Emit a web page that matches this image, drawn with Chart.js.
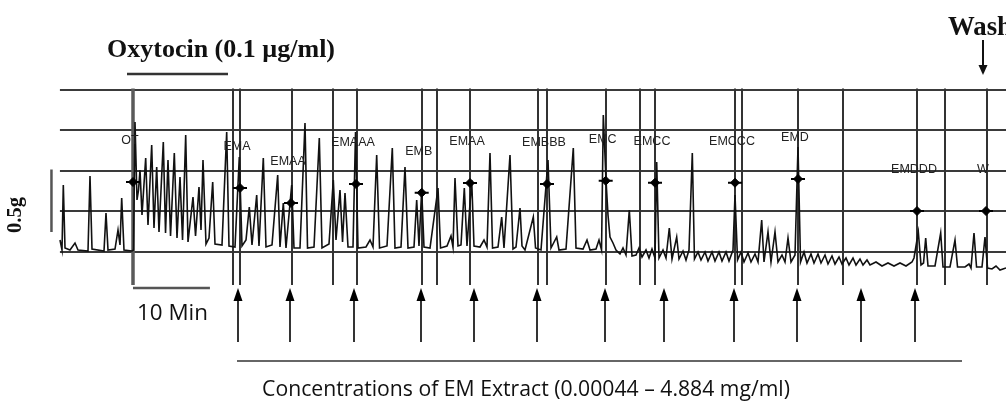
<!DOCTYPE html>
<html><head><meta charset="utf-8">
<script src="https://cdn.jsdelivr.net/npm/chart.js@4.4.1/dist/chart.umd.min.js"></script>
<style>html,body{margin:0;padding:0;background:#fff;overflow:hidden}canvas{display:block}</style>
</head><body>
<canvas id="c" width="1006" height="406"></canvas>
<script>
// ---- data (time in minutes from oxytocin application, force in g) ----
const traceTime = [
-9.49,-9.23,-9.06,-8.84,-8.19,-7.54,-7.15,-5.85,-5.59,-5.33,-3.77,-3.51,-3.25,-2.34,-1.95,-1.69,-1.47,-1.17,-0.13,
0.07,0.26,0.52,0.72,0.91,1.17,1.65,1.95,2.43,2.73,3.08,3.38,3.94,4.23,4.55,4.88,5.37,5.72,6.11,6.44,6.85,7.15,7.8,8.13,8.58,8.84,9.1,9.49,9.88,10.36,10.66,11.57,12.18,12.48,
13.26,13.82,14.17,14.69,15.12,15.47,16.08,16.38,16.94,17.29,18.07,18.81,19.11,19.54,19.89,20.63,20.93,21.71,22.36,22.69,23.53,24.22,24.57,25.48,26.04,26.39,26.91,27.24,27.56,27.95,
28.6,28.93,29.25,30.29,30.81,31.2,31.68,32.05,33.02,33.71,34.06,34.84,35.36,35.75,36.53,36.88,37.18,37.53,37.83,38.61,39.65,39.98,40.82,41.34,41.6,41.86,42.25,42.64,43.07,43.42,
44.03,44.33,45.11,45.63,46.02,46.41,46.74,47.45,47.93,48.23,49.01,49.4,49.79,50.31,50.57,50.96,52.04,52.33,53.04,53.95,54.34,55.08,55.38,56.29,57.24,57.59,58.5,59.02,59.41,60.19,60.58,60.91,
61.14,61.49,61.75,62.01,62.4,62.79,63.31,63.7,64.09,64.52,64.87,65.39,65.78,66.17,66.69,67.08,67.47,67.86,68.08,68.38,68.9,69.29,69.72,70.07,70.68,70.98,71.5,71.89,72.28,72.71,72.99,
73.45,73.84,74.36,74.75,75.27,75.66,76.18,76.57,77.09,77.48,78.0,78.26,78.59,79.04,79.43,79.95,80.34,80.86,81.25,81.73,82.03,82.55,82.94,83.46,83.85,84.37,84.76,85.15,85.54,86.06,86.45,86.78,
87.23,87.62,88.14,88.53,89.05,89.44,89.96,90.35,90.87,91.26,91.78,92.17,92.69,93.08,93.6,93.99,94.51,94.9,95.42,95.81,96.59,97.37,98.15,98.93,99.71,100.49,101.27,101.53,
102.09,102.44,102.77,103.05,103.35,104.26,105.0,105.3,106.21,106.86,107.19,108.16,108.68,108.94,109.33,109.66,110.37,110.76,111.09,111.67,112.19,112.71,113.49
];
const traceForce = [
0.096,0.016,0.536,0.032,0.016,0.072,0.016,0.008,0.608,0.024,0.008,0.312,0.016,0.024,0.176,0.056,0.432,0.016,0.008,
0.016,1.04,0.416,0.496,0.656,0.296,0.752,0.216,0.856,0.192,0.68,0.16,0.88,0.152,0.736,0.128,0.792,0.112,0.6,0.096,0.936,0.08,0.44,0.128,0.52,0.176,0.736,0.064,0.112,0.56,0.064,0.056,0.96,0.048,
0.04,0.76,0.048,0.096,0.36,0.056,0.456,0.048,0.752,0.04,0.056,0.616,0.04,0.392,0.032,0.536,0.032,0.032,1.032,0.032,0.04,0.912,0.032,0.064,0.576,0.096,0.496,0.08,0.472,0.04,
0.04,0.96,0.032,0.04,0.096,0.04,0.776,0.032,0.048,0.832,0.032,0.04,0.68,0.032,0.04,0.416,0.048,0.496,0.04,0.032,0.512,0.032,0.048,0.128,0.04,0.592,0.048,0.056,0.512,0.048,
0.576,0.048,0.04,0.096,0.04,0.792,0.032,0.04,0.28,0.032,0.776,0.024,0.04,0.352,0.048,0.016,0.28,0.032,0.016,0.736,0.032,0.12,0.016,0.024,0.832,0.032,0.024,0.096,0.016,0.024,0.096,0.016,
1.096,0.576,0.296,0.12,0.072,0.016,-0.016,0.032,-0.024,0.336,-0.032,-0.024,0.032,-0.04,0.016,-0.048,0.024,-0.048,0.72,-0.048,0.016,-0.048,0.192,-0.056,0.12,-0.056,0.008,-0.064,0.016,0.792,-0.056,
0,-0.064,0,-0.072,0,-0.072,0,-0.072,0,-0.072,0.016,0.456,-0.064,0,-0.08,-0.008,-0.08,-0.016,-0.08,0.256,-0.08,0.16,-0.08,0.16,-0.08,-0.024,-0.08,0.112,-0.08,-0.024,0.84,-0.08,
0,-0.088,-0.016,-0.088,-0.016,-0.088,-0.024,-0.096,-0.032,-0.096,-0.04,-0.096,-0.048,-0.104,-0.048,-0.104,-0.056,-0.104,-0.064,-0.104,-0.08,-0.112,-0.088,-0.112,-0.088,-0.112,-0.08,-0.048,
0.16,-0.104,-0.088,0.112,-0.112,-0.112,0.152,-0.12,-0.12,0.096,-0.12,-0.12,-0.096,-0.128,0.152,-0.12,-0.12,0.12,-0.128,-0.136,-0.112,-0.144,-0.128
];
const markerNames = ['OT','EMA','EMAA','EMAAA','EMB','EMAA','EMBBB','EMC','EMCC','EMCCC','EMD','EMDDD','W'];
const markerTime  = [0, 13.91, 20.54, 28.99, 37.53, 43.81, 53.82, 61.45, 67.86, 78.26, 86.45, 101.92, 110.89];
const markerForce = [0.56, 0.512, 0.392, 0.544, 0.474, 0.552, 0.544, 0.57, 0.554, 0.554, 0.584, 0.328, 0.328];
const gridForce = [0, 0.325, 0.65, 0.975, 1.3];
const paperLineTime = [0, 13.0, 13.91, 20.67, 26.0, 29.12, 37.57, 39.52, 43.81, 52.65, 53.82, 61.49, 65.91, 67.86, 78.26, 79.17, 86.45, 92.3, 101.92, 105.56, 111.02];
const doseTime = [13.65, 20.41, 28.73, 37.44, 44.33, 52.52, 61.36, 69.03, 78.13, 86.32, 94.64, 101.66];
const oxytocinPeriod = [-0.78, 12.35];
const timeBarMinutes = [0, 10];
const forceBarGrams = [0.16, 0.66];
const washTime = 110.5;
const extractPeriod = [13.52, 107.77];
const titleOxytocin = 'Oxytocin (0.1 \u00b5g/ml)';
const titleWash = 'Wash';
const labelForce = '0.5g';
const labelTime = '10 Min';
const labelExtract = 'Concentrations of EM Extract (0.00044 \u2013 4.884 mg/ml)';

// ---- drawing ----
const X_MIN = -17.29, X_MAX = 113.49, Y_MIN = -1.232, Y_MAX = 2.016;
const GRID_START = -9.5, LINE_BOTTOM = -0.264;

function fitFont(ctx, text, weight, size, family, targetW) {
  ctx.font = `${weight} ${size}px ${family}`;
  const w = ctx.measureText(text).width;
  ctx.font = `${weight} ${(size * targetW / w).toFixed(2)}px ${family}`;
}
function upArrow(ctx, x, yTop, yBot, headW, headH) {
  ctx.beginPath(); ctx.moveTo(x, yBot); ctx.lineTo(x, yTop + headH - 1); ctx.stroke();
  ctx.beginPath(); ctx.moveTo(x, yTop); ctx.lineTo(x - headW / 2, yTop + headH); ctx.lineTo(x + headW / 2, yTop + headH); ctx.closePath(); ctx.fill();
}

const overlay = {
  id: 'overlay',
  beforeDatasetsDraw(chart) {
    const { ctx, scales: { x, y } } = chart;
    ctx.save();
    ctx.strokeStyle = '#3a3a3a'; ctx.lineWidth = 2;
    gridForce.forEach(g => {
      const py = Math.round(y.getPixelForValue(g));
      ctx.beginPath(); ctx.moveTo(x.getPixelForValue(GRID_START), py); ctx.lineTo(x.getPixelForValue(X_MAX), py); ctx.stroke();
    });
    paperLineTime.forEach((t, i) => {
      const px = Math.round(x.getPixelForValue(t));
      ctx.lineWidth = i === 0 ? 3.5 : 2;
      ctx.strokeStyle = i === 0 ? '#5a5a5a' : '#333';
      ctx.beginPath(); ctx.moveTo(px, y.getPixelForValue(gridForce[gridForce.length - 1]) - 1); ctx.lineTo(px, y.getPixelForValue(LINE_BOTTOM)); ctx.stroke();
    });
    // force calibration bar
    ctx.strokeStyle = '#555'; ctx.lineWidth = 2.5;
    const bx = x.getPixelForValue(-10.6);
    ctx.beginPath(); ctx.moveTo(bx, y.getPixelForValue(forceBarGrams[1])); ctx.lineTo(bx, y.getPixelForValue(forceBarGrams[0])); ctx.stroke();
    ctx.restore();
  },
  afterDatasetsDraw(chart) {
    const { ctx, scales: { x, y } } = chart;
    ctx.save();
    // marker labels
    ctx.fillStyle = '#222'; ctx.textAlign = 'center'; ctx.textBaseline = 'middle';
    ctx.font = '12.5px "Liberation Sans", Arial, sans-serif';
    markerNames.forEach((n, i) => {
      const px = x.getPixelForValue(markerTime[i]) - 3;
      const py = y.getPixelForValue(markerForce[i]) - 41;
      ctx.fillText(n, px, py);
    });
    // oxytocin title + bar
    ctx.fillStyle = '#111'; ctx.textAlign = 'left';
    fitFont(ctx, titleOxytocin, 'bold', 17, '"Liberation Serif", "DejaVu Serif", serif', 228);
    ctx.fillText(titleOxytocin, 107, 50);
    ctx.strokeStyle = '#333'; ctx.lineWidth = 2.5;
    ctx.beginPath(); ctx.moveTo(x.getPixelForValue(oxytocinPeriod[0]), 74); ctx.lineTo(x.getPixelForValue(oxytocinPeriod[1]), 74); ctx.stroke();
    // wash
    fitFont(ctx, titleWash, 'bold', 17, '"Liberation Serif", "DejaVu Serif", serif', 64);
    ctx.fillText(titleWash, 948, 28);
    ctx.fillStyle = '#111'; ctx.strokeStyle = '#111'; ctx.lineWidth = 2;
    const wx = Math.round(x.getPixelForValue(washTime));
    ctx.beginPath(); ctx.moveTo(wx, 40); ctx.lineTo(wx, 66); ctx.stroke();
    ctx.beginPath(); ctx.moveTo(wx, 75); ctx.lineTo(wx - 4.5, 65); ctx.lineTo(wx + 4.5, 65); ctx.closePath(); ctx.fill();
    // 0.5g label
    ctx.save();
    ctx.translate(16, 215); ctx.rotate(-Math.PI / 2);
    ctx.textAlign = 'center';
    fitFont(ctx, labelForce, 'bold', 17, '"Liberation Serif", "DejaVu Serif", serif', 36);
    ctx.fillText(labelForce, 0, 0);
    ctx.restore();
    // 10 min bar
    ctx.strokeStyle = '#555'; ctx.lineWidth = 2.5;
    ctx.beginPath(); ctx.moveTo(x.getPixelForValue(timeBarMinutes[0]), 288); ctx.lineTo(x.getPixelForValue(timeBarMinutes[1]), 288); ctx.stroke();
    ctx.fillStyle = '#111'; ctx.textAlign = 'left';
    fitFont(ctx, labelTime, 'normal', 18, '"Open Sans", "Liberation Sans", sans-serif', 71);
    ctx.fillText(labelTime, 137, 314);
    // dose arrows
    ctx.strokeStyle = '#000'; ctx.fillStyle = '#000'; ctx.lineWidth = 1.6;
    doseTime.forEach(t => upArrow(ctx, Math.round(x.getPixelForValue(t)), 288, 342, 9, 13));
    // extract period line
    ctx.strokeStyle = '#666'; ctx.lineWidth = 2;
    ctx.beginPath(); ctx.moveTo(x.getPixelForValue(extractPeriod[0]), 361); ctx.lineTo(x.getPixelForValue(extractPeriod[1]), 361); ctx.stroke();
    ctx.fillStyle = '#111'; ctx.textAlign = 'center';
    fitFont(ctx, labelExtract, 'normal', 18, '"Open Sans", "Liberation Sans", sans-serif', 528);
    ctx.fillText(labelExtract, 526, 390);
    ctx.restore();
  }
};

new Chart(document.getElementById('c'), {
  data: {
    datasets: [
      { type: 'line', data: traceTime.map((t, i) => ({ x: t, y: traceForce[i] })), borderColor: '#111', borderWidth: 1.6, pointRadius: 0, tension: 0, order: 3 },
      { type: 'scatter', data: markerTime.map((t, i) => ({ x: t, y: markerForce[i] })), pointStyle: 'line', pointRadius: 7, borderColor: '#000', borderWidth: 2, order: 2 },
      { type: 'scatter', data: markerTime.map((t, i) => ({ x: t, y: markerForce[i] })), pointStyle: 'rectRot', pointRadius: 4.5, backgroundColor: '#000', borderColor: '#000', borderWidth: 1, order: 1 }
    ]
  },
  options: {
    responsive: false, animation: false, events: [],
    layout: { padding: 0, autoPadding: false },
    plugins: { legend: { display: false }, tooltip: { enabled: false } },
    scales: {
      x: { type: 'linear', min: X_MIN, max: X_MAX, display: false },
      y: { type: 'linear', min: Y_MIN, max: Y_MAX, display: false }
    }
  },
  plugins: [overlay]
});
</script>
</body></html>
